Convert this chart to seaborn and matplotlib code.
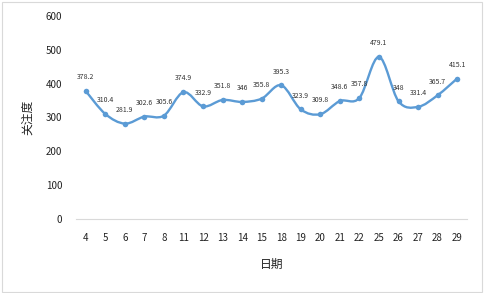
import numpy as np
import pandas as pd
import matplotlib
matplotlib.use("Agg")
import matplotlib.pyplot as plt
from matplotlib.path import Path
from matplotlib.patches import PathPatch, Rectangle
import seaborn as sns

dates = ["4", "5", "6", "7", "8", "11", "12", "13", "14", "15",
         "18", "19", "20", "21", "22", "25", "26", "27", "28", "29"]
values = [378.2, 310.4, 281.9, 302.6, 305.6, 374.9, 332.9, 351.8, 346, 355.8,
          395.3, 323.9, 309.8, 348.6, 357.8, 479.1, 348, 331.4, 365.7, 415.1]
labels = ["378.2", "310.4", "281.9", "302.6", "305.6", "374.9", "332.9", "351.8", "346", "355.8",
          "395.3", "323.9", "309.8", "348.6", "357.8", "479.1", "348", "331.4", "365.7", "415.1"]
yticks = [0, 100, 200, 300, 400, 500, 600]

sns.set_theme(style="white")
plt.rcParams['font.family'] = ['Noto Sans CJK SC', 'DejaVu Sans']

color = "#5B9BD5"
df = pd.DataFrame({"pos": np.arange(len(dates)), "value": values})

fig = plt.figure(figsize=(4.85, 2.93), dpi=100)
ax = fig.add_axes([0.1567, 0.2526, 0.806, 0.6928])

# smooth curve (Catmull-Rom -> cubic Bezier), like Excel's smoothed line
x = df["pos"].to_numpy(float)
y = df["value"].to_numpy(float)
verts = [(x[0], y[0])]
codes = [Path.MOVETO]
n = len(x)
t = 1.0 / 6.0
for i in range(n - 1):
    p0 = (x[i - 1], y[i - 1]) if i > 0 else (x[i], y[i])
    p1 = (x[i], y[i])
    p2 = (x[i + 1], y[i + 1])
    p3 = (x[i + 2], y[i + 2]) if i + 2 < n else (x[i + 1], y[i + 1])
    c1 = (p1[0] + (p2[0] - p0[0]) * t, p1[1] + (p2[1] - p0[1]) * t)
    c2 = (p2[0] - (p3[0] - p1[0]) * t, p2[1] - (p3[1] - p1[1]) * t)
    verts += [c1, c2, p2]
    codes += [Path.CURVE4] * 3
ax.add_patch(PathPatch(Path(verts, codes), facecolor="none", edgecolor=color, lw=1.7, zorder=2))

sns.scatterplot(data=df, x="pos", y="value", ax=ax, color=color, s=16,
                edgecolor=color, linewidth=0, zorder=3, legend=False)

for xi, yi, lab in zip(x, y, labels):
    ax.annotate(lab, (xi, yi), xytext=(0, 7), textcoords="offset points",
                ha="center", va="bottom", fontsize=5, color="#333333")

ax.set_xlim(-0.5, n - 0.5)
ax.set_ylim(0, 600)
ax.set_xticks(x)
ax.set_xticklabels(dates)
ax.set_yticks(yticks)
ax.set_yticklabels([str(v) for v in yticks])
ax.tick_params(axis="both", length=0, labelsize=7, colors="#222222")
ax.tick_params(axis="x", pad=10)
ax.tick_params(axis="y", pad=10)
for s in ["top", "right", "left"]:
    ax.spines[s].set_visible(False)
ax.spines["bottom"].set_color("#D9D9D9")
ax.spines["bottom"].set_linewidth(0.8)
ax.grid(False)
ax.set_xlabel("日期", fontsize=8.5, color="#222222", labelpad=11)
ax.set_ylabel("关注度", fontsize=8.5, color="#222222", labelpad=8)

fig.patches.append(Rectangle((0.004, 0.004), 0.99, 0.99, transform=fig.transFigure,
                             fill=False, edgecolor="#D9D9D9", lw=0.8))

fig.savefig("out.png", dpi=100)
